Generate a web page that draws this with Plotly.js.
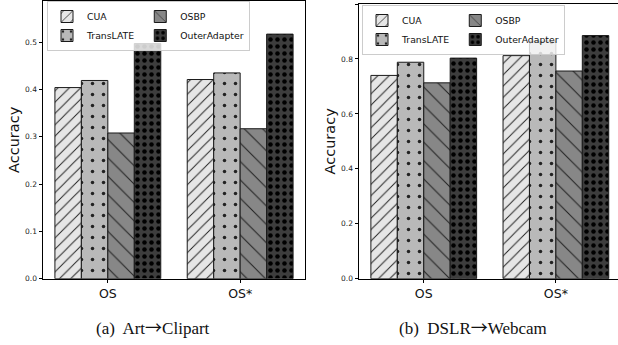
<!DOCTYPE html>
<html>
<head>
<meta charset="utf-8">
<script src="https://cdn.plot.ly/plotly-3.0.1.min.js"></script>
<style>html,body{margin:0;padding:0;background:#fff}#chart{width:618px;height:345px}</style>
</head>
<body>
<div id="chart"></div>
<script>
const categories = ['OS', 'OS*'];
const methods = ['CUA', 'TransLATE', 'OSBP', 'OuterAdapter'];
const artClipart = {
  CUA: [0.404, 0.421],
  TransLATE: [0.419, 0.435],
  OSBP: [0.308, 0.317],
  OuterAdapter: [0.497, 0.517]
};
const dslrWebcam = {
  CUA: [0.740, 0.812],
  TransLATE: [0.788, 0.865],
  OSBP: [0.713, 0.756],
  OuterAdapter: [0.803, 0.885]
};
const captionLabels = ['(a)', '(b)'];
const captionSources = ['Art', 'DSLR'];
const captionTargets = ['Clipart', 'Webcam'];

const styles = {
  CUA: {color: '#e6e6e6', shape: '/', fg: '#222', size: 8, solidity: 0.12, group: 'c1'},
  TransLATE: {color: '#b9b9b9', shape: '.', fg: '#222', size: 11, solidity: 0.08, group: 'c1'},
  OSBP: {color: '#878787', shape: '\\', fg: '#222', size: 13, solidity: 0.08, group: 'c2'},
  OuterAdapter: {color: '#3d3d3d', shape: '.', fg: '#000', size: 7, solidity: 0.33, group: 'c2'}
};

const traces = [];
[[artClipart, 'x', 'y', 'legend', 'a'], [dslrWebcam, 'x2', 'y2', 'legend2', 'b']].forEach(([data, xa, ya, lg, p]) => {
  methods.forEach(m => {
    const s = styles[m];
    traces.push({
      type: 'bar', name: m, x: categories, y: data[m], xaxis: xa, yaxis: ya,
      legend: lg, legendgroup: p + s.group,
      marker: {color: s.color, line: {color: '#1a1a1a', width: 1},
        pattern: {shape: s.shape, fgcolor: s.fg, bgcolor: s.color, size: s.size, solidity: s.solidity}},
      hoverinfo: 'skip'
    });
  });
});

const tickFont = {family: 'DejaVu Sans', size: 7.5, color: '#222'};
const xCommon = {type: 'category', showline: true, linecolor: '#000', linewidth: 1, mirror: true,
  ticks: 'outside', ticklen: 3.5, tickcolor: '#000', tickfont: {family: 'DejaVu Sans', size: 12.5, color: '#111'},
  showgrid: false, zeroline: false, fixedrange: true};
const yCommon = {showline: true, linecolor: '#000', linewidth: 1, mirror: true,
  ticks: 'outside', ticklen: 3.5, tickcolor: '#000', tickfont: tickFont, tickformat: '.1f',
  showgrid: false, zeroline: false, fixedrange: true,
  title: {text: 'Accuracy', font: {family: 'DejaVu Sans', size: 14.5, color: '#111'}, standoff: 1}};

const legendCommon = {orientation: 'h', bgcolor: 'rgba(255,255,255,0.8)', bordercolor: '#cccccc', borderwidth: 1,
  font: {family: 'DejaVu Sans', size: 9.3, color: '#111'}, xanchor: 'left', yanchor: 'top',
  traceorder: 'grouped', itemwidth: 30, tracegroupgap: 13};

function caption(i) {
  return captionLabels[i] + '  ' + captionSources[i] +
    '<span style="font-family:Noto Sans CJK JP">\u2192</span>' + captionTargets[i];
}

const layout = {
  width: 618, height: 345,
  margin: {l: 0, r: 0, t: 0, b: 0, autoexpand: false},
  paper_bgcolor: '#fff', plot_bgcolor: '#fff',
  barmode: 'group', bargap: 0.2, bargroupgap: 0,
  showlegend: true,
  xaxis: Object.assign({}, xCommon, {domain: [43/618, 305/618], range: [-0.49, 1.49], anchor: 'y'}),
  yaxis: Object.assign({}, yCommon, {domain: [1 - 278.7/345, 1 - 1/345], range: [0, 0.587], dtick: 0.1, anchor: 'x'}),
  xaxis2: Object.assign({}, xCommon, {domain: [359/618, 1], range: [-0.49, 1.47], anchor: 'y2'}),
  yaxis2: Object.assign({}, yCommon, {domain: [1 - 278.7/345, 1 - 4/345], range: [0, 1.0], dtick: 0.2, anchor: 'x2'}),
  legend: Object.assign({}, legendCommon, {x: 47/618, y: 1 - 1/345}),
  legend2: Object.assign({}, legendCommon, {x: 362/618, y: 1 - 5/345}),
  annotations: [
    {text: caption(0), xref: 'paper', yref: 'paper', x: 153/618, y: 1 - 326/345, xanchor: 'center', yanchor: 'middle',
     showarrow: false, font: {family: 'Liberation Serif', size: 17, color: '#111'}},
    {text: caption(1), xref: 'paper', yref: 'paper', x: 472.7/618, y: 1 - 326/345, xanchor: 'center', yanchor: 'middle',
     showarrow: false, font: {family: 'Liberation Serif', size: 17, color: '#111'}}
  ]
};

Plotly.newPlot('chart', traces, layout, {displayModeBar: false, staticPlot: true});
</script>
</body>
</html>
